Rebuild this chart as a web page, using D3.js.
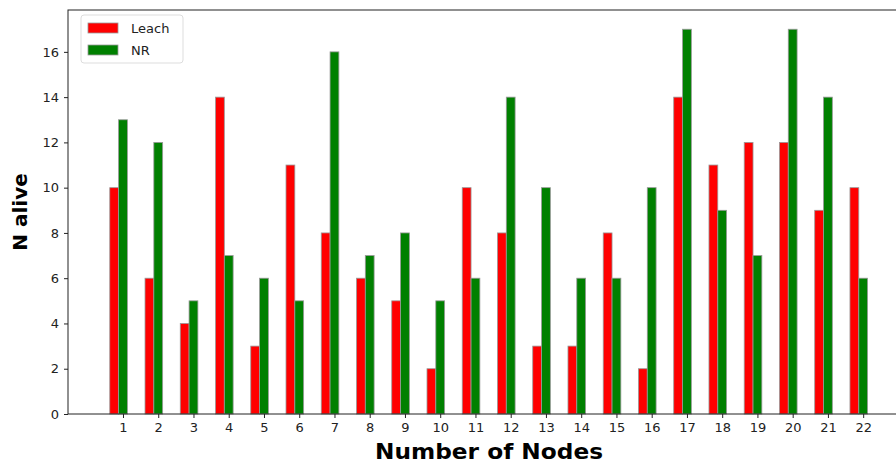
<!DOCTYPE html>
<html>
<head>
<meta charset="utf-8">
<script src="https://cdn.jsdelivr.net/npm/d3@7"></script>
<style>
  body { margin: 0; background: #fff; }
  text { font-family: "DejaVu Sans", sans-serif; }
</style>
</head>
<body>
<svg id="chart" width="896" height="463"></svg>
<script>
// Values
var nodes = [1, 2, 3, 4, 5, 6, 7, 8, 9, 10, 11, 12, 13, 14, 15, 16, 17, 18, 19, 20, 21, 22];
var leach = [10, 6, 4, 14, 3, 11, 8, 6, 5, 2, 10, 8, 3, 3, 8, 2, 14, 11, 12, 12, 9, 10];
var nr    = [13, 12, 5, 7, 6, 5, 16, 7, 8, 5, 6, 14, 10, 6, 6, 10, 17, 9, 7, 17, 14, 6];
var yTicks = [0, 2, 4, 6, 8, 10, 12, 14, 16];

var svg = d3.select("#chart");
// (plot edges; "top" is taken by window.top, so use other names)
var plotL = 68, plotR = 909, plotT = 10, plotB = 414;
var barW = 0.25;

var x = d3.scaleLinear().domain([-0.56, 23.3]).range([plotL, plotR]);
var y = d3.scaleLinear().domain([0, 17.85]).range([plotB, plotT]);

var plot = svg.append("g");

// The two series, side by side:
var series = [
	{ name: "Leach", values: leach, color: "#ff0000", offset: -barW },
	{ name: "NR", values: nr, color: "#008000", offset: 0 }
];

series.forEach(function(s) {
	plot.selectAll(null)
		.data(nodes)
		.enter().append("rect")
		.attr("x", function(d) { return x(d + s.offset - barW / 2); })
		.attr("width", function(d) { return x(barW) - x(0); })
		.attr("y", function(d, i) { return y(s.values[i]); })
		.attr("height", function(d, i) { return y(0) - y(s.values[i]); })
		.attr("fill", s.color)
		.attr("stroke", "#999")
		.attr("stroke-width", 0.8);
});

// Axes:
var xAxis = svg.append("g")
	.attr("transform", "translate(0," + plotB + ")")
	.call(d3.axisBottom(x).tickValues(nodes).tickSize(4).tickPadding(5));
var yAxis = svg.append("g")
	.attr("transform", "translate(" + plotL + ",0)")
	.call(d3.axisLeft(y).tickValues(yTicks).tickSize(4).tickPadding(5));

[xAxis, yAxis].forEach(function(a) {
	a.select(".domain").remove();
	a.selectAll("text").style("font-size", "13px").attr("fill", "#222");
	a.selectAll("line").attr("stroke", "#222");
});

// Spines:
svg.append("rect")
	.attr("x", plotL).attr("y", plotT)
	.attr("width", plotR - plotL).attr("height", plotB - plotT)
	.attr("fill", "none").attr("stroke", "#222").attr("stroke-width", 1);

// Axis labels (the x label is drawn wider in the reference):
svg.append("text")
	.attr("x", 375).attr("y", 459)
	.attr("textLength", 228).attr("lengthAdjust", "spacingAndGlyphs")
	.style("font-size", "21px").style("font-weight", "bold")
	.text("Number of Nodes");
svg.append("text")
	.attr("transform", "translate(27,212)rotate(-90)")
	.attr("text-anchor", "middle")
	.style("font-size", "20px").style("font-weight", "bold")
	.text("N alive");

// Legend:
var legend = svg.append("g").attr("transform", "translate(81,15)");
legend.append("rect")
	.attr("width", 102).attr("height", 48).attr("rx", 3)
	.attr("fill", "#fff").attr("stroke", "#ddd");
series.forEach(function(s, i) {
	legend.append("rect")
		.attr("x", 7).attr("y", 8 + i * 22)
		.attr("width", 30).attr("height", 10)
		.attr("fill", s.color).attr("stroke", "#999").attr("stroke-width", 0.8);
	legend.append("text")
		.attr("x", 50).attr("y", 18 + i * 22)
		.style("font-size", "13px").attr("fill", "#222")
		.text(s.name);
});
</script>
</body>
</html>
